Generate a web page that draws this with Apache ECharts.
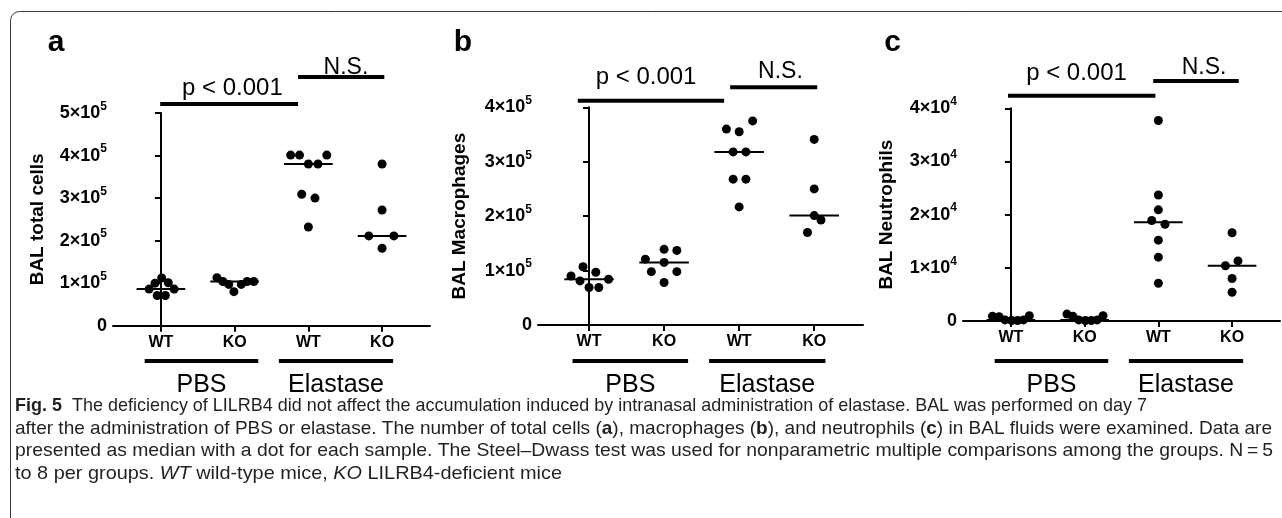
<!DOCTYPE html>
<html><head><meta charset="utf-8">
<script src="https://cdn.jsdelivr.net/npm/echarts@6/dist/echarts.min.js"></script>
<style>html,body{margin:0;padding:0;background:#fff}#c{width:1282px;height:518px}</style>
</head><body><div id="c"></div>
<script>
// ---------------- data ----------------
const groupLabels = ['WT', 'KO', 'WT', 'KO'];
const treatmentLabels = ['PBS', 'Elastase'];
const sigLabels = ['p < 0.001', 'N.S.'];
const panelLetters = ['a', 'b', 'c'];
const axisTitles = ['BAL total cells', 'BAL Macrophages', 'BAL Neutrophils'];

// Panel a: BAL total cells
const totalPbsWt  = [112000, 100000, 101000, 86000, 86000, 71000, 71000];
const totalPbsKo  = [113000, 104000, 97000, 80000, 97000, 104000, 104000];
const totalElaWt  = [401000, 401000, 380000, 380000, 401000, 309000, 300000, 232000];
const totalElaKo  = [380000, 272000, 211000, 211000, 182000];
// horizontal scatter of each dot (category units)
const totalPbsWtJ = [0.01, -0.08, 0.10, -0.16, 0.18, -0.05, 0.06];
const totalPbsKoJ = [-0.24, -0.16, -0.08, -0.01, 0.09, 0.17, 0.26];
const totalElaWtJ = [-0.24, -0.12, 0, 0.13, 0.25, -0.09, 0.09, 0];
const totalElaKoJ = [0, 0, -0.18, 0.16, 0];

// Panel b: BAL macrophages
const macPbsWt = [90000, 107000, 97000, 84000, 81000, 69000, 69000];
const macPbsKo = [121000, 139000, 137000, 115000, 98000, 98000, 78000];
const macElaWt = [360000, 355000, 375000, 318000, 318000, 268000, 268000, 217000];
const macElaKo = [341000, 250000, 201000, 193000, 170000];
const macPbsWtJ = [-0.24, -0.08, 0.09, 0.26, -0.12, 0, 0.13];
const macPbsKoJ = [-0.25, 0, 0.17, 0, -0.17, 0.17, 0];
const macElaWtJ = [-0.17, 0, 0.18, -0.08, 0.09, -0.08, 0.09, 0];
const macElaKoJ = [0, 0, 0, 0.09, -0.09];

// Panel c: BAL neutrophils
const neuPbsWt = [900, 800, 200, 100, 100, 200, 1000];
const neuPbsKo = [1300, 900, 200, 100, 100, 200, 1000];
const neuElaWt = [37700, 23700, 20900, 18900, 18200, 15200, 12000, 7100];
const neuElaKo = [16600, 11300, 10400, 8000, 5400];
const neuPbsWtJ = [-0.25, -0.16, -0.08, 0.01, 0.09, 0.17, 0.25];
const neuPbsKoJ = [-0.24, -0.16, -0.08, 0.01, 0.09, 0.17, 0.25];
const neuElaWtJ = [0, 0, 0, -0.09, 0.09, 0, 0, 0];
const neuElaKoJ = [0, 0.08, -0.09, 0, 0];

const captionLines = [
  '{b|Fig. 5}  The deficiency of LILRB4 did not affect the accumulation induced by intranasal administration of elastase. BAL was performed on day 7',
  'after the administration of PBS or elastase. The number of total cells ({b|a}), macrophages ({b|b}), and neutrophils ({b|c}) in BAL fluids were examined. Data are',
  'presented as median with a dot for each sample. The Steel\u2013Dwass test was used for nonparametric multiple comparisons among the groups. N\u2009=\u20095',
  'to 8 per groups. {i|WT} wild-type mice, {i|KO} LILRB4-deficient mice'
];

// ---------------- layout ----------------
const FONT = "'Liberation Sans', Arial, Helvetica, sans-serif";
const panels = [
  { grid: {left: 113, top: 113, width: 317, height: 212.7}, xMin: -0.65, xMax: 3.65,
    yMax: 500000, yStep: 100000, exp: 5, nameGap: 66,
    groups: [[totalPbsWt, totalPbsWtJ], [totalPbsKo, totalPbsKoJ], [totalElaWt, totalElaWtJ], [totalElaKo, totalElaKoJ]],
    sig: [{x1: -0.01, x2: 1.86, y: 104, tx: 0.97, ty: 88.5}, {x1: 1.86, x2: 3.03, y: 77, tx: 2.51, ty: 67.5}],
    letterX: 56 },
  { grid: {left: 538, top: 107.3, width: 325, height: 217.7}, xMin: -0.68, xMax: 3.65,
    yMax: 400000, yStep: 100000, exp: 5, nameGap: 69,
    groups: [[macPbsWt, macPbsWtJ], [macPbsKo, macPbsKoJ], [macElaWt, macElaWtJ], [macElaKo, macElaKoJ]],
    sig: [{x1: -0.15, x2: 1.80, y: 100.7, tx: 0.76, ty: 77.5}, {x1: 1.88, x2: 3.04, y: 87.3, tx: 2.55, ty: 71.7}],
    letterX: 463 },
  { grid: {left: 963, top: 108.3, width: 317, height: 212.7}, xMin: -0.65, xMax: 3.65,
    yMax: 40000, yStep: 10000, exp: 4, nameGap: 67,
    groups: [[neuPbsWt, neuPbsWtJ], [neuPbsKo, neuPbsKoJ], [neuElaWt, neuElaWtJ], [neuElaKo, neuElaKoJ]],
    sig: [{x1: -0.04, x2: 1.96, y: 95.7, tx: 0.89, ty: 73}, {x1: 1.93, x2: 3.09, y: 81, tx: 2.62, ty: 67.5}],
    letterX: 892.5 }
];
const treatSpans = [[-0.22, 1.32], [1.6, 3.15]];

function median(arr) {
  const s = arr.slice().sort((a, b) => a - b);
  const n = s.length;
  return n % 2 ? s[(n - 1) / 2] : (s[n / 2 - 1] + s[n / 2]) / 2;
}

const grids = [], xAxes = [], yAxes = [], series = [];
panels.forEach((p, i) => {
  grids.push(Object.assign({containLabel: false, outerBoundsMode: 'none'}, p.grid));
  xAxes.push({
    type: 'value', gridIndex: i, min: p.xMin, max: p.xMax,
    axisLine: {show: true, onZero: false, lineStyle: {color: '#000', width: 2}},
    axisTick: {show: true, customValues: [0, 1, 2, 3], length: 6, lineStyle: {color: '#000', width: 2}},
    axisLabel: {show: true, customValues: [0, 1, 2, 3], margin: 9,
      formatter: v => groupLabels[Math.round(v)],
      color: '#000', fontFamily: FONT, fontWeight: 'bold', fontSize: 16},
    splitLine: {show: false}
  });
  yAxes.push({
    type: 'value', gridIndex: i, min: 0, max: p.yMax, interval: p.yStep,
    name: axisTitles[i], nameLocation: 'middle', nameGap: p.nameGap,
    nameTextStyle: {color: '#000', fontFamily: FONT, fontWeight: 'bold', fontSize: 19},
    axisLine: {show: true, lineStyle: {color: '#000', width: 2}},
    axisTick: {show: true, length: 6, lineStyle: {color: '#000', width: 2}},
    axisLabel: {
      margin: 6,
      formatter: v => v === 0 ? '{m|0}' : '{m|' + Math.round(v / Math.pow(10, p.exp)) + '\u00d710}{s|' + p.exp + '}',
      rich: {
        m: {fontFamily: FONT, fontWeight: 'bold', fontSize: 18, color: '#000', lineHeight: 25},
        s: {fontFamily: FONT, fontWeight: 'bold', fontSize: 12, color: '#000', lineHeight: 13, verticalAlign: 'top'}
      }
    },
    splitLine: {show: false}
  });
  const pts = [];
  p.groups.forEach((g, k) => {
    g[0].forEach((v, j) => pts.push([k + g[1][j], v]));
  });
  series.push({
    type: 'custom', xAxisIndex: i, yAxisIndex: i, clip: false, z: 2,
    data: p.groups.map((g, k) => [k, median(g[0])]),
    renderItem: (params, api) => {
      const c = api.value(0), m = api.value(1);
      const a = api.coord([c - 0.33, m]), b = api.coord([c + 0.33, m]);
      return {type: 'line', shape: {x1: a[0], y1: a[1], x2: b[0], y2: b[1]}, style: {stroke: '#000', lineWidth: 2}};
    }
  });
  series.push({
    type: 'scatter', xAxisIndex: i, yAxisIndex: i, clip: false, z: 3,
    symbol: 'circle', symbolSize: 9, itemStyle: {color: '#000', opacity: 1},
    emphasis: {disabled: true},
    data: pts
  });
});

const chart = echarts.init(document.getElementById('c'));
chart.setOption({
  animation: false,
  backgroundColor: '#fff',
  textStyle: {fontFamily: FONT},
  grid: grids, xAxis: xAxes, yAxis: yAxes, series: series
});

// ---------------- annotations ----------------
const graphics = [];
graphics.push({type: 'rect', shape: {x: 10.5, y: 11.5, width: 1320, height: 540, r: 9},
  style: {fill: 'none', stroke: '#3a3a3a', lineWidth: 1}, silent: true});
panels.forEach((p, i) => {
  const px = v => chart.convertToPixel({xAxisIndex: i}, v);
  graphics.push({type: 'text', x: p.letterX, y: 42.6,
    style: {text: panelLetters[i], fontFamily: FONT, fontWeight: 'bold', fontSize: 30, fill: '#000', align: 'center', verticalAlign: 'middle'}});
  p.sig.forEach((s, k) => {
    graphics.push({type: 'line', shape: {x1: px(s.x1), y1: s.y, x2: px(s.x2), y2: s.y},
      style: {stroke: '#000', lineWidth: 4}});
    graphics.push({type: 'text', x: px(s.tx), y: s.ty,
      style: {text: sigLabels[k], fontFamily: FONT, fontSize: k === 0 ? 24 : 23, fill: '#000', align: 'center', verticalAlign: 'middle'}});
  });
  treatSpans.forEach((sp, k) => {
    graphics.push({type: 'line', shape: {x1: px(sp[0]), y1: 361, x2: px(sp[1]), y2: 361},
      style: {stroke: '#000', lineWidth: 4}});
    graphics.push({type: 'text', x: px((sp[0] + sp[1]) / 2), y: 385,
      style: {text: treatmentLabels[k], fontFamily: FONT, fontSize: 25, fill: '#000', align: 'center', verticalAlign: 'middle'}});
  });
});

// caption, fitted horizontally to the reference line widths
const CAP_FAMILY = "'Liberation Sans Narrow', 'Liberation Sans', Arial, sans-serif";
const CAP_SIZE = 19;
const capY = [406, 428.5, 451, 474];
const capRight = [1147, 1272, 1273, 562];
const capLeft = 15;
const ctx = document.createElement('canvas').getContext('2d');
const tokenFont = s => (s === 'b' ? 'bold ' : s === 'i' ? 'italic ' : '') + CAP_SIZE + 'px ' + CAP_FAMILY;
function lineWidth(str) {
  const re = /\{(\w+)\|([^}]*)\}/g; let last = 0, m, w = 0;
  while ((m = re.exec(str))) {
    if (m.index > last) { ctx.font = tokenFont(null); w += ctx.measureText(str.slice(last, m.index)).width; }
    ctx.font = tokenFont(m[1]); w += ctx.measureText(m[2]).width;
    last = re.lastIndex;
  }
  if (last < str.length) { ctx.font = tokenFont(null); w += ctx.measureText(str.slice(last)).width; }
  return w;
}
captionLines.forEach((ln, k) => {
  const sx = (capRight[k] - capLeft) / lineWidth(ln);
  graphics.push({type: 'text', x: capLeft, y: capY[k], scaleX: sx, scaleY: 1,
    style: {text: ln, fontFamily: CAP_FAMILY, fontSize: CAP_SIZE, fill: '#231f20', verticalAlign: 'middle', align: 'left',
      rich: {
        b: {fontFamily: CAP_FAMILY, fontSize: CAP_SIZE, fontWeight: 'bold', fill: '#231f20'},
        i: {fontFamily: CAP_FAMILY, fontSize: CAP_SIZE, fontStyle: 'italic', fill: '#231f20'}
      }}});
});
chart.setOption({graphic: graphics});
</script>
</body></html>
